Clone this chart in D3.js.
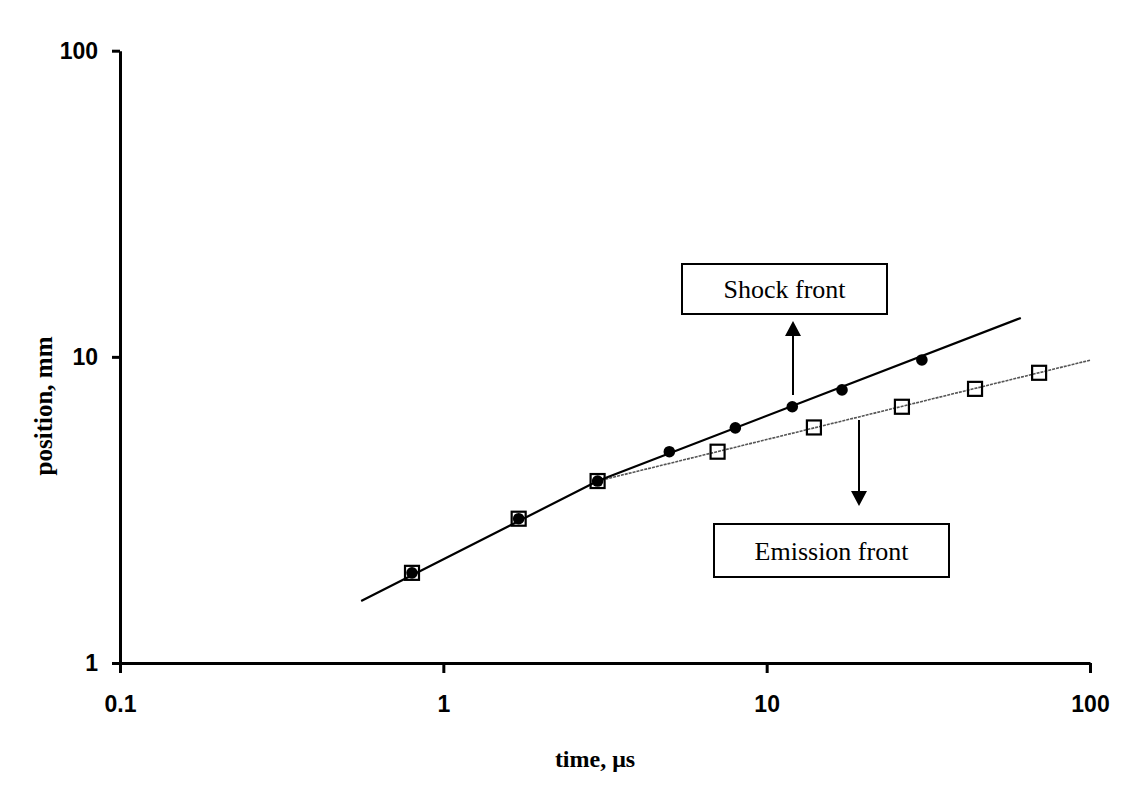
<!DOCTYPE html>
<html>
<head>
<meta charset="utf-8">
<script src="https://cdn.jsdelivr.net/npm/d3@7"></script>
<style>
  body { margin: 0; background: #fff; }
  .axis path, .axis line { stroke: #000; stroke-width: 3; }
  .axis text { font-family: "Liberation Sans", Arial, sans-serif; font-weight: bold; font-size: 23px; fill: #000; }
</style>
</head>
<body>
<svg id="chart" width="1140" height="800"></svg>
<script>
// shock front (filled circles)
const shockTime = [0.8, 1.71, 3.0, 5.0, 8.0, 12.0, 17.1, 30.2];
const shockPos  = [1.97, 2.96, 3.93, 4.9, 5.86, 6.87, 7.8, 9.77];
// emission front (open squares)
const emisTime = [0.8, 1.71, 3.0, 7.05, 14.0, 26.2, 44.1, 69.6];
const emisPos  = [1.97, 2.96, 3.93, 4.9, 5.88, 6.87, 7.86, 8.87];
// fitted lines
const shockFitTime = [0.557, 3.0, 61.1];
const shockFitPos  = [1.595, 3.93, 13.4];
const emisFitTime  = [3.0, 100];
const emisFitPos   = [3.93, 9.75];

const xTicks = [0.1, 1, 10, 100];
const yTicks = [1, 10, 100];

const svg = d3.select('#chart');

const x = d3.scaleLog().domain([0.1, 100]).range([120, 1090]);
const y = d3.scaleLog().domain([1, 100]).range([663, 50.7]);

const fmt = d3.format('~g');

svg.append('g')
  .attr('class', 'axis')
  .attr('transform', 'translate(0,663)')
  .call(d3.axisBottom(x).tickValues(xTicks).tickFormat(fmt).tickSizeInner(10).tickSizeOuter(0).tickPadding(23));

svg.append('g')
  .attr('class', 'axis')
  .attr('transform', 'translate(120,0)')
  .call(d3.axisLeft(y).tickValues(yTicks).tickFormat(fmt).tickSizeInner(8).tickSizeOuter(0).tickPadding(14));

// axis titles
svg.append('text')
  .attr('x', 595).attr('y', 767)
  .attr('text-anchor', 'middle')
  .style('font-family', '"Liberation Serif", "Times New Roman", serif')
  .style('font-weight', 'bold')
  .style('font-size', '24px')
  .text('time, μs');

svg.append('text')
  .attr('transform', 'translate(52,406) rotate(-90)')
  .attr('text-anchor', 'middle')
  .style('font-family', '"Liberation Serif", "Times New Roman", serif')
  .style('font-weight', 'bold')
  .style('font-size', '25px')
  .text('position, mm');

const line = d3.line()
  .x(d => x(d[0]))
  .y(d => y(d[1]));

svg.append('path')
  .datum(d3.zip(emisFitTime, emisFitPos))
  .attr('d', line)
  .attr('fill', 'none')
  .attr('stroke', '#555')
  .attr('stroke-width', 1.6)
  .attr('stroke-dasharray', '3,1');

svg.append('path')
  .datum(d3.zip(shockFitTime, shockFitPos))
  .attr('d', line)
  .attr('fill', 'none')
  .attr('stroke', '#000')
  .attr('stroke-width', 2.2);

svg.selectAll('circle.shock')
  .data(d3.zip(shockTime, shockPos))
  .join('circle')
  .attr('class', 'shock')
  .attr('cx', d => x(d[0]))
  .attr('cy', d => y(d[1]))
  .attr('r', 5.8)
  .attr('fill', '#000');

svg.selectAll('rect.emis')
  .data(d3.zip(emisTime, emisPos))
  .join('rect')
  .attr('class', 'emis')
  .attr('x', d => x(d[0]) - 7)
  .attr('y', d => y(d[1]) - 7)
  .attr('width', 14)
  .attr('height', 14)
  .attr('fill', 'none')
  .attr('stroke', '#000')
  .attr('stroke-width', 2.2);

// annotation boxes and arrows
function labelBox(x0, y0, w, h, txt) {
  svg.append('rect')
    .attr('x', x0).attr('y', y0).attr('width', w).attr('height', h)
    .attr('fill', '#fff').attr('stroke', '#000').attr('stroke-width', 2);
  svg.append('text')
    .attr('x', x0 + w / 2).attr('y', y0 + h / 2 + 9)
    .attr('text-anchor', 'middle')
    .style('font-family', '"Liberation Serif", "Times New Roman", serif')
    .style('font-size', '26px')
    .text(txt);
}

function arrow(ax, yFrom, yTip) {
  const dir = yTip < yFrom ? -1 : 1;
  svg.append('line')
    .attr('x1', ax).attr('x2', ax)
    .attr('y1', yFrom).attr('y2', yTip - dir * 14)
    .attr('stroke', '#000').attr('stroke-width', 2);
  svg.append('path')
    .attr('d', `M${ax},${yTip} L${ax - 8},${yTip - dir * 15} L${ax + 8},${yTip - dir * 15} Z`)
    .attr('fill', '#000');
}

labelBox(682, 264, 205, 50, 'Shock front');
arrow(793, 395, 321);

labelBox(714, 524, 235, 53, 'Emission front');
arrow(859, 420, 506);
</script>
</body>
</html>
